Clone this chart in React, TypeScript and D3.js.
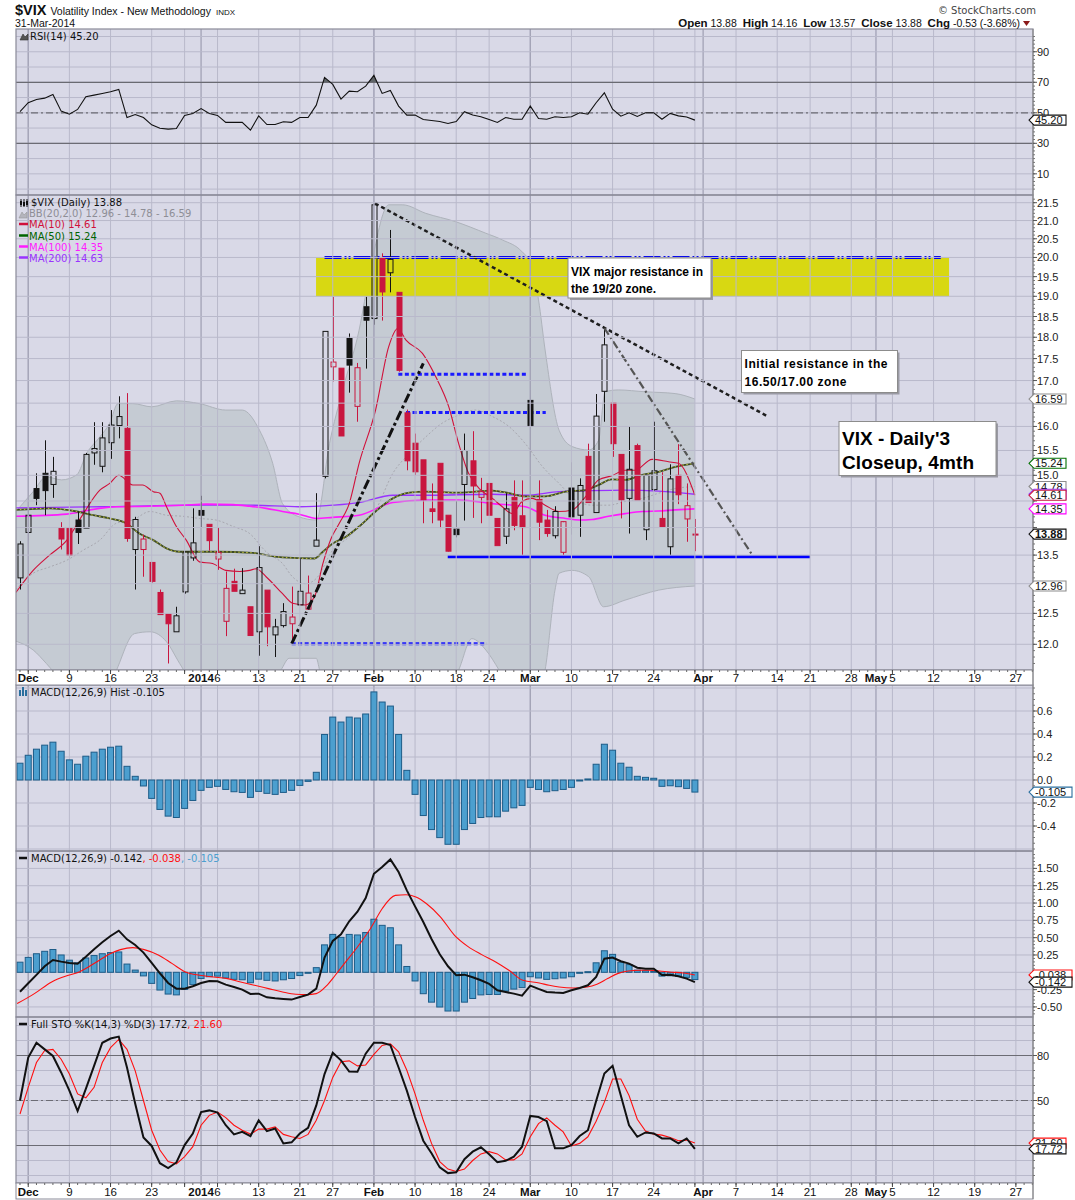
import React, { useEffect, useRef } from "react";
import * as d3 from "d3";

// ---------- calendar ----------
const holidays = ["2013-12-25", "2014-01-01", "2014-01-20", "2014-02-17", "2014-04-18", "2014-05-26"];
const firstDay = "2013-11-29";
const lastDay = "2014-05-30";

// ---------- daily OHLC, 29-Nov-2013 .. 31-Mar-2014 ----------
const opens = [
  13.10, 13.91, 14.74, 15.04, 14.82, 13.99, 13.99, 14.14, 13.99, 15.45,
  15.18, 15.66, 16.02, 15.96, 13.60, 13.60, 13.37, 12.85, 12.49, 12.20,
  12.86, 13.45, 14.32, 14.06, 13.43, 12.37, 13.04, 12.83, 12.61, 12.20,
  12.89, 12.15, 12.30, 12.33, 12.64, 12.57, 13.66, 14.98, 17.31, 17.28,
  17.97, 16.43, 18.74, 18.45, 20.00, 19.60, 19.10, 16.29, 15.65, 15.31,
  14.35, 15.24, 14.23, 13.97, 14.82, 15.29, 14.57, 14.84, 14.17, 13.84,
  14.57, 14.22, 16.56, 14.53, 14.14, 13.85, 13.55, 14.75, 14.23, 15.38,
  14.28, 16.76, 16.50, 15.42, 14.55, 15.60, 13.96, 14.72, 14.17, 13.65,
  15.00, 14.16, 13.88,
];
const highs = [
  13.75, 14.33, 15.04, 15.71, 15.37, 14.10, 14.00, 14.30, 15.45, 16.09,
  16.09, 16.35, 16.65, 16.72, 14.20, 13.87, 13.37, 12.90, 12.49, 12.61,
  13.56, 14.36, 14.60, 14.06, 14.00, 13.21, 13.26, 13.27, 12.61, 13.66,
  12.89, 12.41, 12.67, 12.95, 13.45, 13.14, 14.65, 18.14, 18.99, 17.28,
  18.09, 17.40, 18.99, 21.48, 20.11, 20.74, 19.10, 16.36, 15.85, 15.31,
  14.84, 15.24, 14.23, 14.50, 15.85, 15.90, 14.95, 14.84, 14.17, 14.65,
  14.90, 14.90, 16.79, 14.90, 14.33, 14.40, 14.10, 15.26, 14.94, 15.64,
  16.70, 18.22, 16.50, 15.42, 16.00, 15.64, 15.01, 16.10, 15.06, 15.22,
  15.63, 14.84, 14.16,
];
const lows = [
  12.90, 13.77, 14.42, 14.23, 14.56, 13.60, 13.45, 13.70, 13.99, 15.21,
  15.06, 15.33, 15.75, 13.74, 12.90, 13.12, 13.02, 12.48, 11.70, 12.20,
  12.83, 13.40, 14.00, 13.58, 13.24, 12.13, 12.87, 12.83, 12.14, 11.82,
  11.97, 11.80, 12.27, 12.07, 12.64, 12.57, 13.66, 14.94, 16.98, 15.80,
  16.73, 16.10, 17.27, 18.30, 18.40, 19.10, 17.20, 15.10, 15.00, 14.08,
  14.08, 13.99, 13.56, 13.82, 14.13, 14.18, 14.08, 14.22, 13.67, 13.70,
  13.95, 13.50, 15.37, 13.77, 13.83, 13.80, 13.50, 13.87, 13.83, 14.47,
  14.28, 16.10, 15.37, 14.17, 13.89, 14.52, 13.77, 14.70, 14.01, 13.50,
  14.44, 13.74, 13.57,
];
const closes = [
  13.70, 14.23, 14.55, 14.70, 15.08, 13.79, 13.50, 13.91, 15.42, 15.54,
  15.76, 16.03, 16.21, 13.80, 14.15, 13.79, 13.04, 12.48, 12.33, 12.46,
  13.56, 13.72, 14.23, 13.76, 13.55, 12.92, 12.87, 12.89, 12.14, 13.28,
  12.28, 12.28, 12.53, 12.44, 12.87, 12.84, 13.77, 18.14, 17.42, 15.80,
  17.35, 17.29, 18.41, 21.44, 19.11, 19.95, 17.23, 15.29, 15.07, 14.52,
  14.30, 14.14, 13.57, 13.87, 15.50, 14.79, 14.68, 14.23, 13.67, 14.35,
  14.04, 14.00, 16.00, 14.10, 13.89, 14.30, 14.11, 14.20, 14.80, 14.47,
  16.22, 17.82, 15.64, 14.52, 15.12, 14.52, 15.00, 15.09, 14.02, 14.93,
  14.62, 14.41, 13.88,
];

// ---------- indicators ----------
const rsiVals = [
  50.7, 56.6, 58.7, 59.6, 62.0, 51.1, 49.1, 52.2, 60.5, 61.6,
  62.7, 63.8, 65.3, 46.9, 48.9, 46.9, 42.1, 39.9, 39.3, 39.7,
  48.3, 49.6, 52.8, 49.6, 48.3, 43.7, 43.7, 43.7, 38.6, 48.0,
  42.3, 42.3, 44.1, 43.7, 46.9, 46.9, 55.0, 73.2, 68.6, 59.0,
  64.2, 63.8, 67.5, 74.5, 62.7, 64.6, 54.4, 48.5, 48.5, 45.6,
  45.0, 44.3, 43.0, 44.3, 50.7, 48.5, 47.4, 45.6, 43.7, 46.9,
  45.8, 45.8, 54.4, 46.3, 45.8, 47.4, 46.9, 47.4, 50.0, 49.1,
  56.6, 63.1, 52.4, 47.8, 50.0, 47.6, 50.0, 50.0, 45.8, 49.6,
  48.0, 47.2, 45.2,
];
const histVals = [
  0.146, 0.215, 0.268, 0.303, 0.329, 0.25, 0.175, 0.137, 0.207, 0.242,
  0.268, 0.285, 0.294, 0.119, 0.032, -0.052, -0.16, -0.256, -0.314, -0.326,
  -0.247, -0.178, -0.09, -0.064, -0.055, -0.082, -0.102, -0.108, -0.151, -0.099,
  -0.116, -0.125, -0.108, -0.09, -0.047, -0.012, 0.067, 0.396, 0.547, 0.504,
  0.547, 0.539, 0.574, 0.766, 0.678, 0.643, 0.396, 0.084, -0.125, -0.309,
  -0.431, -0.501, -0.559, -0.559, -0.431, -0.378, -0.326, -0.32, -0.32, -0.271,
  -0.242, -0.221, -0.064, -0.082, -0.102, -0.093, -0.082, -0.064, -0.003, 0.009,
  0.137, 0.311, 0.259, 0.146, 0.111, 0.032, 0.023, 0.015, -0.055, -0.05,
  -0.058, -0.073, -0.105,
];
const macdVals = [
  -0.28, -0.159, -0.037, 0.087, 0.178, 0.154, 0.135, 0.125, 0.226, 0.332,
  0.433, 0.524, 0.601, 0.476, 0.394, 0.284, 0.135, -0.014, -0.154, -0.236,
  -0.236, -0.202, -0.154, -0.125, -0.13, -0.178, -0.212, -0.25, -0.313, -0.308,
  -0.361, -0.375, -0.385, -0.394, -0.356, -0.322, -0.236, 0.212, 0.452, 0.548,
  0.736, 0.875, 1.072, 1.423, 1.52, 1.63, 1.447, 1.183, 0.952, 0.726,
  0.481, 0.26, 0.087, -0.043, -0.034, -0.072, -0.115, -0.168, -0.26, -0.284,
  -0.308, -0.337, -0.192, -0.24, -0.284, -0.293, -0.298, -0.26, -0.226, -0.188,
  -0.067, 0.197, 0.212, 0.159, 0.125, 0.067, 0.053, 0.053, -0.038, -0.034,
  -0.058, -0.091, -0.142,
];
const stoK = [
  50, 78.6, 88.5, 84.1, 79.7, 68.7, 56.6, 43.0, 57.7, 73.1,
  88.5, 91.3, 92.6, 72.0, 47.8, 25.4, 19.7, 8.2, 4.9, 8.7,
  20.3, 28.0, 42.3, 43.4, 41.9, 33.5, 27.4, 29.1, 26.3, 36.8,
  29.6, 31.3, 21.4, 22.1, 28.0, 31.8, 46.7, 67.6, 81.9, 76.8,
  69.3, 69.1, 81.2, 88.5, 88.5, 86.9, 72.0, 56.6, 39.0, 23.2,
  14.8, 5.4, 1.6, 2.1, 10.9, 15.9, 18.8, 14.2, 8.9, 9.8,
  12.6, 19.2, 39.7, 39.0, 36.2, 18.1, 18.1, 20.3, 26.3, 30.2,
  49.6, 68.0, 73.1, 53.3, 33.5, 25.8, 28.7, 28.0, 24.7, 24.7,
  21.4, 24.7, 17.72,
];
const stoD = [
  41.0, 58.8, 75.3, 83.4, 84.1, 77.5, 67.6, 54.4, 51.8, 58.8,
  75.3, 85.2, 90.7, 84.1, 69.8, 50.0, 30.2, 17.0, 9.3, 7.8,
  12.6, 19.2, 33.5, 40.1, 42.3, 38.6, 33.5, 30.2, 27.6, 30.9,
  30.9, 32.4, 27.4, 25.8, 24.7, 27.4, 36.8, 50.0, 65.4, 75.9,
  76.4, 73.1, 73.7, 80.8, 86.7, 87.8, 82.5, 70.2, 54.4, 36.8,
  21.4, 9.3, 4.3, 2.7, 4.3, 10.0, 14.4, 15.9, 14.4, 10.4,
  10.4, 14.4, 25.8, 34.6, 38.4, 33.5, 29.1, 19.7, 21.4, 25.8,
  36.2, 48.9, 64.3, 64.3, 53.3, 37.5, 29.6, 27.6, 26.9, 25.4,
  23.2, 23.6, 21.6,
];

// smooth overlays: [trading-day number, value]
const signalPts: [number, number][] = [
  [-0.34, -0.452], [1.75, -0.308], [3.85, -0.139], [5.9, -0.043], [7.2, 0.005], [9.3, 0.149],
  [10.95, 0.269], [12.2, 0.327], [13.7, 0.356], [15.1, 0.327], [16.8, 0.25], [18.5, 0.125],
  [20.1, 0.005], [21.8, -0.043], [23.5, -0.067], [25.2, -0.091], [26.8, -0.139], [28.5, -0.188],
  [30.2, -0.236], [31.9, -0.284], [33.5, -0.317], [34.8, -0.322], [36, -0.308], [37.3, -0.188],
  [38.3, -0.043], [39.4, 0.125], [41, 0.365], [42.7, 0.654], [44, 0.918], [45.6, 1.11],
  [46.9, 1.12], [48.1, 1.087], [49.4, 0.99], [51.1, 0.798], [52.8, 0.534], [54.4, 0.375],
  [56.1, 0.255], [57.8, 0.149], [59.4, 0.029], [61.1, -0.115], [63.1, -0.154], [64.3, -0.188],
  [65.5, -0.212], [67.2, -0.226], [68.9, -0.212], [70.1, -0.173], [71.4, -0.091], [72.6, -0.019],
  [73.9, 0.019], [75.2, 0.029], [76.4, 0.029], [77.7, 0.019], [78.9, 0.005], [80.6, -0.01], [82, -0.038],
];
const bbUpper: [number, number][] = [
  [-0.5, 14.3], [1.6, 14.68], [3.2, 14.97], [5.05, 14.91], [6.9, 15.01], [8.1, 15.44], [9.7, 15.78],
  [10.9, 16.07], [11.9, 16.49], [13.7, 16.49], [16, 16.42], [19, 16.55], [21.8, 16.49], [25, 16.35],
  [27, 16.35], [29.1, 15.92], [30.7, 15.24], [31.9, 14.45], [33.9, 14.2], [36, 14.14], [37.6, 15.64],
  [39.2, 16.79], [41.2, 18.17], [42.5, 19.6], [44.8, 21.44], [46.5, 21.44], [49.3, 21.2], [52.9, 20.97],
  [56.6, 20.65], [58.6, 20.47], [61, 20.15], [61.9, 19.89], [63, 18.91], [63.8, 17.7], [65.5, 15.92],
  [67.1, 15.58], [69.1, 15.51], [70.3, 15.71], [71.1, 16.75], [72.7, 16.79], [75.9, 16.75], [79.6, 16.71], [82, 16.59],
];
const bbLower: [number, number][] = [
  [-0.5, 12.05], [1.6, 11.91], [3.2, 11.7], [5, 11.45], [8, 11.3], [11, 11.45], [13.9, 12.17], [15.8, 12.2],
  [17.8, 12.04], [19.4, 11.7], [21, 11.4], [25, 11.2], [29, 11.3], [31.7, 11.6], [32.7, 11.78], [36, 11.78],
  [36.4, 11.6], [38, 11.0], [42, 10.0], [46, 9.8], [50, 10.9], [53.3, 11.6], [54.9, 12.09], [56.6, 11.91],
  [58.2, 11.6], [60, 11.2], [62, 11.0], [63.8, 11.6], [65, 12.89], [65.5, 13.18], [67.1, 13.23], [69.1, 13.12],
  [70.9, 12.61], [73.5, 12.72], [77.6, 12.89], [82, 12.96],
];
const bbMid: [number, number][] = [
  [-0.5, 12.9], [1.6, 13.18], [3.6, 13.29], [5.7, 13.41], [7.7, 13.59], [9.7, 13.77], [11.7, 14.08],
  [13.7, 14.14], [15.8, 14.3], [17.8, 14.23], [19.8, 14.21], [21.8, 14.17], [23.8, 14.14], [25.9, 14.02],
  [27.9, 13.89], [29.9, 13.56], [31.9, 13.35], [33.1, 13.12], [34.7, 13.0], [36, 13.09], [38, 13.59],
  [40, 13.83], [41.2, 14.02], [43.2, 14.33], [45.3, 15.04], [47.3, 15.44], [49.3, 15.78], [51.3, 16.07],
  [53.3, 16.24], [55.4, 16.35], [57.4, 16.21], [59.4, 16.0], [61.4, 15.64], [63.5, 15.17], [65.5, 14.84],
  [67.5, 14.52], [69.5, 14.42], [71.5, 14.42], [73.5, 14.49], [75.6, 14.55], [77.6, 14.65], [79.6, 14.74], [82, 14.78],
];
const ma10: [number, number][] = [
  [-0.5, 12.85], [1.6, 13.23], [3.6, 13.5], [5.7, 13.77], [7.7, 14.26], [9.7, 14.71], [10.9, 14.84], [12, 15.0],
  [13.7, 14.81], [14.9, 14.81], [16.2, 14.68], [17, 14.65], [17.8, 14.39], [19, 14.02], [20.2, 13.77],
  [21.8, 13.38], [23.4, 13.35], [25, 13.23], [26.7, 13.21], [27.9, 13.23], [28.7, 13.26], [29.9, 13.12],
  [31.9, 12.83], [33.1, 12.67], [34.7, 12.64], [35.8, 12.78], [36.8, 13.35], [37.8, 13.8], [38.8, 14.08],
  [40, 14.45], [41.2, 15.24], [43.2, 16.35], [44.8, 17.78], [45.9, 18.21], [46.9, 17.93], [48.9, 17.62],
  [50.5, 17.09], [52.1, 16.42], [53.3, 15.64], [54.5, 15.04], [55.8, 14.74], [57.4, 14.55], [58.6, 14.39],
  [59.8, 14.26], [61, 14.49], [62.2, 14.55], [63.8, 14.42], [65.5, 14.3], [67.1, 14.33], [68.7, 14.58],
  [70.3, 14.91], [71.9, 14.99], [73.5, 15.1], [74.7, 15.1], [76.8, 15.32], [78.8, 15.27], [80, 15.24], [82, 14.61],
];
const ma50: [number, number][] = [
  [-0.5, 14.33], [3.6, 14.36], [6.9, 14.3], [8.9, 14.23], [10.9, 14.17], [12.9, 14.08], [14.5, 13.89],
  [16.2, 13.77], [17.8, 13.62], [19.4, 13.56], [23.8, 13.56], [28.3, 13.54], [29.9, 13.5], [31.9, 13.46],
  [35.8, 13.44], [36.8, 13.56], [38, 13.71], [39.6, 13.83], [41.2, 14.02], [43.2, 14.3], [45.3, 14.55],
  [47.3, 14.66], [49.3, 14.68], [53.3, 14.66], [57.4, 14.7], [59.4, 14.65], [61.4, 14.59], [63.8, 14.59],
  [66.3, 14.68], [68.7, 14.71], [70.3, 14.81], [71.9, 14.92], [73.5, 14.91], [75.6, 15.01], [77.6, 15.07],
  [79.6, 15.17], [82, 15.24],
];
const ma100: [number, number][] = [
  [-0.5, 14.21], [5.7, 14.25], [8.5, 14.33], [11.7, 14.39], [15.8, 14.4], [19.8, 14.42], [22.6, 14.44],
  [25.9, 14.43], [27.9, 14.4], [29.9, 14.36], [31.9, 14.3], [33.9, 14.25], [36, 14.17], [38, 14.19],
  [41.2, 14.23], [45.3, 14.47], [49.3, 14.52], [53.3, 14.52], [57.4, 14.45], [61.4, 14.39], [63.8, 14.23],
  [66.3, 14.17], [67.9, 14.14], [69.5, 14.15], [71.5, 14.21], [73.5, 14.26], [75.6, 14.3], [77.6, 14.31],
  [79.6, 14.33], [82, 14.35],
];
const ma200: [number, number][] = [
  [-0.5, 14.37], [9.7, 14.39], [21.8, 14.42], [27.9, 14.42], [33.9, 14.39], [38, 14.42], [41.2, 14.47],
  [45.3, 14.61], [49.3, 14.61], [57.4, 14.63], [61.4, 14.61], [65.5, 14.68], [69.5, 14.7], [73.5, 14.71],
  [77.6, 14.69], [82, 14.63],
];

// ---------- drawn annotations, in [trading day, price] ----------
const zone = { from: 35.97, to: 112.88, low: 19.0, high: 20.0 };
const topLine: [number, number][] = [[37.0, 20.0], [111.87, 20.0]];
const downTrend: [number, number][] = [[43.13, 21.48], [90.89, 16.21]];
const steepTrend: [number, number][] = [[71, 18.22], [88.98, 13.5]];
const upTrend: [number, number][] = [[33.01, 12.01], [49.0, 17.39]];
const supportLine: [number, number][] = [[51.97, 13.47], [95.99, 13.47]];
const dottedLevels: [number, number, number][] = [
  [45.97, 61.69, 17.14],
  [46.9, 63.88, 16.3],
  [33.01, 56.71, 12.01],
];

// ---------- axis ----------
const weekLines = [
  "2013-12-02", "2013-12-09", "2013-12-16", "2013-12-23", "2013-12-30", "2014-01-06", "2014-01-13",
  "2014-01-21", "2014-01-27", "2014-02-03", "2014-02-10", "2014-02-18", "2014-02-24", "2014-03-03",
  "2014-03-10", "2014-03-17", "2014-03-24", "2014-03-31", "2014-04-07", "2014-04-14", "2014-04-21",
  "2014-04-28", "2014-05-05", "2014-05-12", "2014-05-19", "2014-05-27",
];
const monthLines = ["2013-12-02", "2014-01-02", "2014-02-03", "2014-03-03", "2014-04-01", "2014-05-01"];
const dateLabels: [string, string][] = [
  ["2013-12-02", "Dec"], ["2013-12-09", "9"], ["2013-12-16", "16"], ["2013-12-23", "23"],
  ["2014-01-02", "2014"], ["2014-01-06", "6"], ["2014-01-13", "13"], ["2014-01-21", "21"],
  ["2014-01-27", "27"], ["2014-02-03", "Feb"], ["2014-02-10", "10"], ["2014-02-18", "18"],
  ["2014-02-24", "24"], ["2014-03-03", "Mar"], ["2014-03-10", "10"], ["2014-03-17", "17"],
  ["2014-03-24", "24"], ["2014-04-01", "Apr"], ["2014-04-07", "7"], ["2014-04-14", "14"],
  ["2014-04-21", "21"], ["2014-04-28", "28"], ["2014-05-01", "May"], ["2014-05-05", "5"],
  ["2014-05-12", "12"], ["2014-05-19", "19"], ["2014-05-27", "27"],
];
const priceTicks = d3.range(12, 21.75, 0.5);
const rsiTicks = [10, 30, 50, 70, 90];
const histTicks = [-0.4, -0.2, 0, 0.2, 0.4, 0.6];
const macdTicks = [-0.5, -0.25, 0, 0.25, 0.5, 0.75, 1.0, 1.25, 1.5];
const stoTicks = [20, 50, 80];

const SANS = "'Liberation Sans', Arial, sans-serif";
const LEG = "'DejaVu Sans', Verdana, sans-serif";
const BG = "#d9d9e7";
const GRID = "#b9b9cb";
const RED = "#c8163f";

const L = 16;
const R = 1033;

const App: React.FC = () => {
  const svgRef = useRef<SVGSVGElement>(null);

  useEffect(() => {
    if (!svgRef.current) return;
    const svg = d3.select(svgRef.current);
    svg.selectAll("*").remove();

    const fmt = d3.timeFormat("%Y-%m-%d");
    const parse = d3.timeParse("%Y-%m-%d");
    const hol = new Set(holidays);
    const days = d3.timeDay
      .range(parse(firstDay)!, d3.timeDay.offset(parse(lastDay)!, 1))
      .filter((d) => d.getDay() % 6 !== 0 && !hol.has(fmt(d)));
    const dayIndex = new Map(days.map((d, i) => [fmt(d), i]));
    const di = (s: string) => dayIndex.get(s) as number;

    const x = d3.scaleLinear().domain([-0.486, 123.08]).range([L, R]);

    const panels = {
      rsi: [29, 195],
      price: [195, 670],
      hist: [685, 851],
      macd: [851, 1017],
      sto: [1017, 1183],
    };
    const yR = d3.scaleLinear().domain([0, 100]).range([189.1, 36.5]);
    const yP = d3.scaleLog().domain([12, 21.5]).range([644.3, 202.7]);
    const yH = d3.scaleLinear().domain([0, 0.6]).range([780, 711]);
    const yM = d3.scaleLinear().domain([0, 1.5]).range([972.3, 868.4]);
    const yS = d3.scaleLinear().domain([20, 80]).range([1145.5, 1055.5]);

    svg.append("rect").attr("width", 1075).attr("height", 1200).attr("fill", "#fff");

    const defs = svg.append("defs");
    Object.entries(panels).forEach(([k, [t, b]]) => {
      defs.append("clipPath").attr("id", `clip-${k}`)
        .append("rect").attr("x", L).attr("y", t).attr("width", R - L).attr("height", b - t);
    });

    // panel backgrounds
    Object.values(panels).forEach(([t, b]) => {
      svg.append("rect").attr("x", L).attr("y", t).attr("width", R - L).attr("height", b - t).attr("fill", BG);
    });

    // Bollinger band under the grid
    const pg = svg.append("g").attr("clip-path", "url(#clip-price)");
    const lineKP = (ys: (v: number) => number) =>
      d3.line<[number, number]>().x((d) => x(d[0])).y((d) => ys(d[1])).curve(d3.curveMonotoneX);
    const lowRev = [...bbLower].reverse();
    const bandPath = lineKP(yP)(bbUpper)! + "L" + lineKP(yP)(lowRev)!.slice(1) + "Z";
    pg.append("path").attr("d", bandPath).attr("fill", "#c5cbd3").attr("stroke", "none");
    pg.append("path").attr("d", lineKP(yP)(bbUpper)).attr("fill", "none").attr("stroke", "#aeb3bb");
    pg.append("path").attr("d", lineKP(yP)(bbLower)).attr("fill", "none").attr("stroke", "#aeb3bb");

    // resistance zone
    pg.append("rect")
      .attr("x", x(zone.from)).attr("width", x(zone.to) - x(zone.from))
      .attr("y", yP(zone.high)).attr("height", yP(zone.low) - yP(zone.high))
      .attr("fill", "#d8d812");

    // grid: verticals
    Object.entries(panels).forEach(([k, [t, b]]) => {
      const g = svg.append("g").attr("clip-path", `url(#clip-${k})`);
      weekLines.forEach((s) => {
        g.append("line").attr("x1", x(di(s))).attr("x2", x(di(s))).attr("y1", t).attr("y2", b)
          .attr("stroke", GRID).attr("stroke-width", 1);
      });
      monthLines.forEach((s) => {
        g.append("line").attr("x1", x(di(s))).attr("x2", x(di(s))).attr("y1", t).attr("y2", b)
          .attr("stroke", "#a2a2b6").attr("stroke-width", 1.3);
      });
    });

    // grid: horizontals
    const hgrid = (k: string, vals: number[], ys: (v: number) => number) => {
      const [t, b] = (panels as any)[k];
      const g = svg.append("g").attr("clip-path", `url(#clip-${k})`);
      vals.forEach((v) => {
        const yy = ys(v);
        if (yy < t || yy > b) return;
        g.append("line").attr("x1", L).attr("x2", R).attr("y1", yy).attr("y2", yy).attr("stroke", GRID);
      });
    };
    hgrid("rsi", d3.range(0, 101, 10), yR);
    hgrid("price", priceTicks, yP);
    hgrid("hist", d3.range(-0.6, 0.81, 0.2), yH);
    hgrid("macd", d3.range(-0.75, 1.76, 0.25), yM);
    hgrid("sto", d3.range(0, 101, 10), yS);

    const refLine = (g: any, yy: number, dash: string | null) => {
      g.append("line").attr("x1", L).attr("x2", R).attr("y1", yy).attr("y2", yy)
        .attr("stroke", "#6c6c74").attr("stroke-width", 1.2)
        .attr("stroke-dasharray", dash);
    };

    // ---------- RSI ----------
    const rg = svg.append("g").attr("clip-path", "url(#clip-rsi)");
    refLine(rg, yR(70), null);
    refLine(rg, yR(30), null);
    refLine(rg, yR(50), "7,3,2,3");
    defs.append("clipPath").attr("id", "clip-ob")
      .append("rect").attr("x", L).attr("y", 29).attr("width", R - L).attr("height", yR(70) - 29);
    rg.append("path")
      .attr("clip-path", "url(#clip-ob)")
      .attr("d", d3.area<number>().x((_, i) => x(i)).y0(yR(70)).y1((d) => yR(d))(rsiVals))
      .attr("fill", "#5f6468");
    rg.append("path")
      .attr("d", d3.line<number>().x((_, i) => x(i)).y((d) => yR(d))(rsiVals))
      .attr("fill", "none").attr("stroke", "#111").attr("stroke-width", 1.1);

    // ---------- price overlays ----------
    pg.append("path").attr("d", lineKP(yP)(bbMid)).attr("fill", "none")
      .attr("stroke", "#a8a8b0").attr("stroke-dasharray", "2,2");
    pg.append("path").attr("d", lineKP(yP)(ma200)).attr("fill", "none").attr("stroke", "#9933ff").attr("stroke-width", 1.3);
    pg.append("path").attr("d", lineKP(yP)(ma100)).attr("fill", "none").attr("stroke", "#ff1aff").attr("stroke-width", 1.6);
    pg.append("path").attr("d", lineKP(yP)(ma50)).attr("fill", "none").attr("stroke", "#3d4a25").attr("stroke-width", 1.8);
    pg.append("path").attr("d", lineKP(yP)(ma50)).attr("fill", "none").attr("stroke", "#d6d640")
      .attr("stroke-width", 0.9).attr("stroke-dasharray", "1.5,2.5");
    pg.append("path").attr("d", lineKP(yP)(ma10)).attr("fill", "none").attr("stroke", "#d0103a").attr("stroke-width", 1.1);

    // annotation lines
    const seg = (pts: [number, number][], color: string, w: number, dash: string | null) =>
      pg.append("line")
        .attr("x1", x(pts[0][0])).attr("y1", yP(pts[0][1]))
        .attr("x2", x(pts[1][0])).attr("y2", yP(pts[1][1]))
        .attr("stroke", color).attr("stroke-width", w).attr("stroke-dasharray", dash);
    seg(topLine, "#0000ee", 3, "17,3,2,2,2,3");
    dottedLevels.forEach(([a, b, v]) => seg([[a, v], [b, v]], "#1a1aff", 3, "4,2.5"));
    seg(supportLine, "#0000ff", 3, null);

    // candles
    const cg = pg.append("g");
    closes.forEach((c, i) => {
      const o = opens[i];
      const prev = i > 0 ? closes[i - 1] : c;
      const color = c >= prev ? "#141414" : RED;
      const cx = Math.round(x(i)) + 0.5;
      const top = yP(Math.max(o, c));
      const bot = yP(Math.min(o, c));
      const hi = yP(highs[i]);
      const lo = yP(lows[i]);
      const filled = c < o;
      cg.append("line").attr("x1", cx).attr("x2", cx).attr("y1", hi).attr("y2", top).attr("stroke", color);
      cg.append("line").attr("x1", cx).attr("x2", cx).attr("y1", bot).attr("y2", lo).attr("stroke", color);
      const h = Math.max(1, bot - top);
      cg.append("rect")
        .attr("x", cx - 2.5).attr("y", top).attr("width", 5).attr("height", h)
        .attr("fill", filled ? color : "none")
        .attr("stroke", color).attr("stroke-width", 1);
    });

    seg(downTrend, "#1e1e1e", 2.5, "4,3");
    seg(steepTrend, "#555", 2.2, "8,3,2,3");
    seg(upTrend, "#111", 3, "10,3,3,3");

    // ---------- MACD histogram panel ----------
    const hg = svg.append("g").attr("clip-path", "url(#clip-hist)");
    histVals.forEach((v, i) => {
      hg.append("rect")
        .attr("x", x(i) - 3).attr("width", 6)
        .attr("y", Math.min(yH(0), yH(v))).attr("height", Math.max(1, Math.abs(yH(v) - yH(0))))
        .attr("fill", "#4c9fcf").attr("stroke", "#1d5c88").attr("stroke-width", 1);
    });

    // ---------- MACD panel ----------
    const mg = svg.append("g").attr("clip-path", "url(#clip-macd)");
    histVals.forEach((v, i) => {
      mg.append("rect")
        .attr("x", x(i) - 3).attr("width", 6)
        .attr("y", Math.min(yM(0), yM(v))).attr("height", Math.max(1, Math.abs(yM(v) - yM(0))))
        .attr("fill", "#4c9fcf").attr("stroke", "#1d5c88").attr("stroke-width", 1);
    });
    mg.append("path").attr("d", lineKP(yM)(signalPts)).attr("fill", "none").attr("stroke", "#ff1010").attr("stroke-width", 1.1);
    mg.append("path")
      .attr("d", d3.line<number>().x((_, i) => x(i)).y((d) => yM(d))(macdVals))
      .attr("fill", "none").attr("stroke", "#111").attr("stroke-width", 2);

    // ---------- Stochastics ----------
    const sg = svg.append("g").attr("clip-path", "url(#clip-sto)");
    refLine(sg, yS(80), null);
    refLine(sg, yS(20), null);
    refLine(sg, yS(50), "7,3,2,3");
    sg.append("path")
      .attr("d", d3.line<number>().x((_, i) => x(i)).y((d) => yS(d))(stoD))
      .attr("fill", "none").attr("stroke", "#ff1010").attr("stroke-width", 1.1);
    sg.append("path")
      .attr("d", d3.line<number>().x((_, i) => x(i)).y((d) => yS(d))(stoK))
      .attr("fill", "none").attr("stroke", "#111").attr("stroke-width", 2);

    // panel borders
    Object.values(panels).forEach(([t, b]) => {
      svg.append("rect").attr("x", L).attr("y", t).attr("width", R - L).attr("height", b - t)
        .attr("fill", "none").attr("stroke", "#8a8a98").attr("stroke-width", 1.2);
    });

    // ---------- date axes ----------
    const dateBand = (t: number, b: number) => {
      svg.append("rect").attr("x", L).attr("y", t).attr("width", R - L).attr("height", b - t)
        .attr("fill", "#fff").attr("stroke", "#8a8a98");
      days.forEach((_, i) => {
        const xx = x(i);
        if (xx < L || xx > R) return;
        svg.append("line").attr("x1", xx).attr("x2", xx).attr("y1", t).attr("y2", t + 2).attr("stroke", "#666");
      });
      weekLines.forEach((s) => {
        svg.append("line").attr("x1", x(di(s))).attr("x2", x(di(s))).attr("y1", t).attr("y2", t + 4).attr("stroke", "#444");
      });
      dateLabels.forEach(([s, lab]) => {
        const major = monthLines.includes(s);
        svg.append("text").attr("x", x(di(s))).attr("y", b - 3)
          .attr("text-anchor", "middle").attr("font-family", SANS)
          .attr("font-size", 11.5).attr("font-weight", major ? "bold" : "normal")
          .attr("fill", "#111").text(lab);
      });
    };
    dateBand(670, 685);
    dateBand(1183, 1199);

    // ---------- right axis ----------
    const lastRsi = rsiVals[rsiVals.length - 1];
    const priceTags: [number, string, string, boolean][] = [
      [bbUpper[bbUpper.length - 1][1], "16.59", "#8c8c8c", false],
      [ma50[ma50.length - 1][1], "15.24", "#007000", false],
      [bbMid[bbMid.length - 1][1], "14.78", "#8c8c8c", false],
      [ma200[ma200.length - 1][1], "14.63", "#9933ff", false],
      [ma10[ma10.length - 1][1], "14.61", RED, false],
      [ma100[ma100.length - 1][1], "14.35", "#ff00ff", false],
      [closes[closes.length - 1], "13.88", "#111", true],
      [bbLower[bbLower.length - 1][1], "12.96", "#8c8c8c", false],
    ];
    const tagYs = [
      yR(lastRsi),
      ...priceTags.map((t) => yP(t[0])),
      yH(histVals[histVals.length - 1]),
      yM(signalPts[signalPts.length - 1][1]),
      yM(macdVals[macdVals.length - 1]),
      yS(stoD[stoD.length - 1]),
      yS(stoK[stoK.length - 1]),
    ];

    svg.append("line").attr("x1", R).attr("x2", R).attr("y1", 29).attr("y2", 1199).attr("stroke", "#888");
    const axisLabels = (vals: number[], ys: (v: number) => number, f: (v: number) => string) => {
      vals.forEach((v) => {
        const yy = ys(v);
        svg.append("line").attr("x1", R).attr("x2", R + 4).attr("y1", yy).attr("y2", yy).attr("stroke", "#555");
        // labels that sit fully behind a value tag are not visible in the original
        if (tagYs.some((ty) => Math.abs(ty - yy) < 7)) return;
        svg.append("text").attr("x", R + 4).attr("y", yy + 4)
          .attr("font-family", SANS).attr("font-size", 11).attr("fill", "#222").text(f(v));
      });
    };
    const minorTicks = (vals: number[], ys: (v: number) => number) => {
      vals.forEach((v) => {
        const yy = ys(v);
        svg.append("line").attr("x1", R).attr("x2", R + 2).attr("y1", yy).attr("y2", yy).attr("stroke", "#777");
      });
    };
    minorTicks(d3.range(0, 101, 2.5).filter((v) => yR(v) > 30 && yR(v) < 194), yR);
    minorTicks(d3.range(11.7, 21.7, 0.1), yP);
    minorTicks(d3.range(-0.6, 0.81, 0.05).filter((v) => yH(v) > 686 && yH(v) < 850), yH);
    minorTicks(d3.range(-0.6, 1.76, 0.05).filter((v) => yM(v) > 852 && yM(v) < 1016), yM);
    minorTicks(d3.range(0, 101, 5).filter((v) => yS(v) > 1018 && yS(v) < 1182), yS);

    axisLabels(rsiTicks, yR, (v) => String(v));
    axisLabels(priceTicks, yP, (v) => v.toFixed(1));
    axisLabels(histTicks, yH, (v) => v.toFixed(1));
    axisLabels(macdTicks, yM, (v) => v.toFixed(2));
    axisLabels(stoTicks, yS, (v) => String(v));

    const tag = (yy: number, text: string, color: string, bold = false) => {
      const w = text.length * 6 + 2;
      svg.append("path")
        .attr("d", `M${R - 4},${yy} l5,-5 h${w} v10 h${-w} z`)
        .attr("fill", "#fff").attr("stroke", color).attr("stroke-width", 1.1);
      svg.append("text").attr("x", R + 2).attr("y", yy + 4)
        .attr("font-family", SANS).attr("font-size", 11).attr("font-weight", bold ? "bold" : "normal")
        .attr("fill", "#111").text(text);
    };
    tag(yR(lastRsi), "45.20", "#111");
    priceTags.forEach(([v, s, c, b]) => tag(yP(v), s, c, b));
    tag(yH(histVals[histVals.length - 1]), "-0.105", "#2a6f9e");
    tag(yM(signalPts[signalPts.length - 1][1]), "-0.038", "#ff1010");
    tag(yM(macdVals[macdVals.length - 1]), "-0.142", "#111");
    tag(yS(stoD[stoD.length - 1]), "21.60", "#ff1010");
    tag(yS(stoK[stoK.length - 1]), "17.72", "#111");

    // ---------- text boxes ----------
    const box = (bx: number, by: number, bw: number, bh: number, lines: [string, number, number][], size: number) => {
      svg.append("rect").attr("x", bx + 2).attr("y", by + 2).attr("width", bw).attr("height", bh).attr("fill", "#9a9aa4");
      svg.append("rect").attr("x", bx).attr("y", by).attr("width", bw).attr("height", bh)
        .attr("fill", "#fff").attr("stroke", "#8c8c8c");
      lines.forEach(([t, yy, len]) => {
        svg.append("text").attr("x", bx + 3).attr("y", yy)
          .attr("font-family", SANS).attr("font-weight", "bold").attr("font-size", size)
          .attr("textLength", len).attr("lengthAdjust", "spacing")
          .attr("fill", "#000").text(t);
      });
    };
    box(568, 258, 143, 40, [["VIX major resistance in", 275.5, 132], ["the 19/20 zone.", 292.5, 85]], 12);
    box(741.5, 350.5, 156, 42, [["Initial resistance in the", 368, 143], ["16.50/17.00 zone", 386, 102]], 12);
    box(839, 421.5, 157, 54, [["VIX - Daily'3", 444.5, 108], ["Closeup, 4mth", 468.5, 132]], 19);

    // ---------- header ----------
    const hdr = svg.append("text").attr("x", 15).attr("y", 15).attr("font-family", SANS).attr("fill", "#111");
    hdr.append("tspan").attr("font-weight", "bold").attr("font-size", 14.5).text("$VIX");
    hdr.append("tspan").attr("font-size", 10.5).attr("dx", 4).text("Volatility Index - New Methodology");
    hdr.append("tspan").attr("font-size", 8).attr("dx", 5).text("INDX");
    svg.append("text").attr("x", 15).attr("y", 27).attr("font-family", SANS).attr("font-size", 10.5)
      .attr("fill", "#111").text("31-Mar-2014");
    svg.append("text").attr("x", 1036).attr("y", 14).attr("text-anchor", "end")
      .attr("font-family", LEG).attr("font-size", 10).attr("fill", "#444").text("© StockCharts.com");
    const ohlc = svg.append("text").attr("x", 1020).attr("y", 27).attr("text-anchor", "end")
      .attr("font-family", SANS).attr("fill", "#111");
    const ohlcParts: [string, string][] = [
      ["Open", " 13.88  "], ["High", " 14.16  "], ["Low", " 13.57  "], ["Close", " 13.88  "], ["Chg", " -0.53 (-3.68%)"],
    ];
    ohlcParts.forEach(([k, v]) => {
      ohlc.append("tspan").attr("font-weight", "bold").attr("font-size", 11.5).text(k);
      ohlc.append("tspan").attr("font-size", 10.5).attr("xml:space", "preserve").text(v);
    });
    svg.append("path").attr("d", "M1023,21 h7 l-3.5,5 z").attr("fill", "#8b1a1a");

    // ---------- legends ----------
    const legText = (lx: number, ly: number, parts: [string, string][]) => {
      const t = svg.append("text").attr("x", lx).attr("y", ly).attr("font-family", LEG).attr("font-size", 10);
      parts.forEach(([s, c]) => t.append("tspan").attr("fill", c).text(s));
    };
    // RSI
    svg.append("path").attr("d", "M20,40 l3,-6 l2,3 l3,-3 v6 z").attr("fill", "#555").attr("stroke", "#333").attr("stroke-width", 0.6);
    legText(30, 40, [["RSI(14) 45.20", "#111"]]);
    // price
    [20, 23, 26].forEach((lx, i) => {
      svg.append("line").attr("x1", lx + 1).attr("x2", lx + 1).attr("y1", 199).attr("y2", 207).attr("stroke", "#111");
      svg.append("rect").attr("x", lx).attr("y", 201 + (i % 2)).attr("width", 2).attr("height", 4).attr("fill", "#111");
    });
    legText(31, 206, [["$VIX (Daily) 13.88", "#111"]]);
    svg.append("path").attr("d", "M19,218 l3,-6 l2,3 l3,-3 v6 z").attr("fill", "#b4b4bc").attr("stroke", "#999").attr("stroke-width", 0.6);
    legText(29, 217, [["BB(20,2.0) 12.96 - 14.78 - 16.59", "#8e8e96"]]);
    const maLeg: [string, string, number][] = [
      ["MA(10) 14.61", "#d0103a", 228],
      ["MA(50) 15.24", "#006400", 239.5],
      ["MA(100) 14.35", "#ff1aff", 250.5],
      ["MA(200) 14.63", "#9933ff", 261.5],
    ];
    maLeg.forEach(([s, c, ly]) => {
      svg.append("line").attr("x1", 19).attr("x2", 28).attr("y1", ly - 4).attr("y2", ly - 4).attr("stroke", c).attr("stroke-width", 2.5);
      legText(29, ly, [[s, c]]);
    });
    // hist
    [19, 22, 25].forEach((lx, i) => {
      svg.append("rect").attr("x", lx).attr("y", 689 + (i === 1 ? -2 : 1)).attr("width", 2).attr("height", 7 - (i === 1 ? -2 : 1))
        .attr("fill", "#2a6f9e");
    });
    legText(31, 696, [["MACD(12,26,9) Hist -0.105", "#111"]]);
    svg.append("line").attr("x1", 19).attr("x2", 27).attr("y1", 858).attr("y2", 858).attr("stroke", "#111").attr("stroke-width", 2.5);
    legText(31, 862, [["MACD(12,26,9) -0.142", "#111"], [", -0.038", "#ff1010"], [", -0.105", "#4c9fcf"]]);
    svg.append("line").attr("x1", 19).attr("x2", 27).attr("y1", 1024).attr("y2", 1024).attr("stroke", "#111").attr("stroke-width", 2.5);
    legText(31, 1028, [["Full STO %K(14,3) %D(3) 17.72", "#111"], [", 21.60", "#ff1010"]]);
  }, []);

  return (
    <svg
      ref={svgRef}
      width={1075}
      height={1200}
      style={{ position: "absolute", left: 0, top: 0, display: "block" }}
    />
  );
};

export default App;
